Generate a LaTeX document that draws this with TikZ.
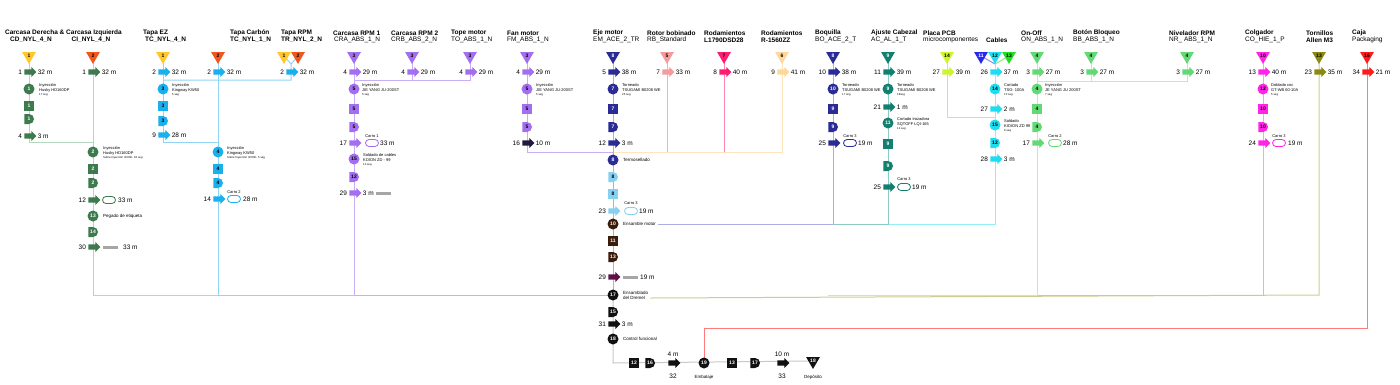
\documentclass[tikz,border=0pt]{standalone}
\usepackage{fontspec}
\setmainfont{Liberation Sans}
\usetikzlibrary{shapes.geometric,shapes.arrows,shapes.misc,backgrounds}
\definecolor{yel}{HTML}{FFC72C}
\definecolor{ora}{HTML}{F2561D}
\definecolor{gDark}{HTML}{3D7A4E}
\definecolor{gLine}{HTML}{B4D8BD}
\definecolor{bT}{HTML}{1AB0EE}
\definecolor{bLine}{HTML}{90D5F4}
\definecolor{purp}{HTML}{A36FF0}
\definecolor{pLine}{HTML}{C8AEF6}
\definecolor{dkA}{HTML}{221940}
\definecolor{navy}{HTML}{2B2B96}
\definecolor{nLine}{HTML}{ADADE3}
\definecolor{salm}{HTML}{F59B9B}
\definecolor{sLine}{HTML}{F6B3B3}
\definecolor{rosa}{HTML}{FF1B70}
\definecolor{rLine}{HTML}{FF88B6}
\definecolor{peach}{HTML}{FFD79B}
\definecolor{peLine}{HTML}{FFE4BD}
\definecolor{lblu}{HTML}{86D0F0}
\definecolor{brown}{HTML}{3B1B0B}
\definecolor{maroon}{HTML}{5D1147}
\definecolor{teal}{HTML}{13806F}
\definecolor{tLine}{HTML}{8DCBC2}
\definecolor{pcb}{HTML}{CCF52B}
\definecolor{pcbLine}{HTML}{CBEC7C}
\definecolor{cyan}{HTML}{1FDDF1}
\definecolor{cLine}{HTML}{90F0F7}
\definecolor{blu11}{HTML}{2727EF}
\definecolor{bl11Line}{HTML}{8A8AF5}
\definecolor{grn13}{HTML}{23DD23}
\definecolor{g13Line}{HTML}{8AE88A}
\definecolor{ong}{HTML}{63D976}
\definecolor{oLine}{HTML}{B8EFC1}
\definecolor{mag}{HTML}{FF24E6}
\definecolor{mLine}{HTML}{FF9DF2}
\definecolor{olive}{HTML}{8B8914}
\definecolor{olLine}{HTML}{CFCC8F}
\definecolor{red}{HTML}{FF1B1B}
\definecolor{redLine}{HTML}{FF7B7B}
\definecolor{blk}{HTML}{111111}
\definecolor{bLn}{HTML}{C9C9C9}
\newcommand\NumFont{\fontsize{5}{5}\selectfont\bfseries}
\newcommand\SmallLine[1]{{\fontsize{2.8}{3.2}\selectfont #1}}
\newcommand\ArrowBody{\rule{0pt}{5pt}}
\newcommand\ArrowLR[6]{%
 \node[tarrow,fill=#4] (#1) at (#2,#3) {\ArrowBody};
 \node[lbl,anchor=east] (#1l) at ([xshift=-2pt]#1.tail) {#5};
 \node[lbl,anchor=west] (#1r) at ([xshift=1pt]#1.tip) {#6};}
\newcommand\ArrowL[5]{%
 \node[tarrow,fill=#4] (#1) at (#2,#3) {\ArrowBody};
 \node[lbl,anchor=east] (#1l) at ([xshift=-2pt]#1.tail) {#5};}
\tikzset{
 stor/.style={regular polygon, regular polygon sides=3, shape border rotate=180, minimum size=16pt, inner sep=0pt, font=\NumFont},
 tarrow/.style={single arrow, minimum height=12pt, single arrow head extend=2.2pt, inner sep=0pt, draw=none},
 opc/.style={circle, minimum size=11pt, inner sep=0pt, font=\NumFont},
 insp/.style={rectangle, minimum size=10pt, inner sep=0pt, font=\NumFont},
 dly/.style={rounded rectangle, rounded rectangle left arc=none, minimum height=10pt, minimum width=9pt, inner sep=0pt, font=\NumFont},
 cart/.style={rounded rectangle, minimum width=13pt, minimum height=7pt, inner sep=0pt, fill=white, line width=0.8pt},
 bar/.style={rectangle, minimum width=15pt, minimum height=3pt, inner sep=0pt, fill=gray!70},
 lbl/.style={inner sep=0pt, font=\fontsize{6.5}{7}\selectfont},
 ttl/.style={inner sep=0pt, font=\fontsize{6.5}{7}\selectfont\bfseries, anchor=west},
 sub/.style={inner sep=0pt, font=\fontsize{6.5}{7}\selectfont, anchor=west},
 desc/.style={inner sep=0pt, font=\fontsize{4}{4.8}\selectfont, align=left, anchor=west},
 slab/.style={inner sep=0pt, font=\fontsize{4.5}{5.2}\selectfont, anchor=west},
 note/.style={inner sep=0pt, font=\fontsize{4}{4.5}\selectfont},
 ln/.style={line width=1pt},
}
\begin{document}
\begin{tikzpicture}[x=1pt,y=-1pt]
\useasboundingbox (0,0) rectangle (1400,384);
% ---------- titles
\node[ttl,anchor=center] (hA) at (63.5,33) {Carcasa Derecha \& Carcasa Izquierda};
\node[ttl,anchor=center] (hA2) at (31,40) {CD\_NYL\_4\_N};
\node[ttl,anchor=center] (hB2) at (91,40) {CI\_NYL\_4\_N};
\node[ttl] (hC) at (143,33) {Tapa EZ};
\node[ttl] (hC2) at (145,40) {TC\_NYL\_4\_N};
\node[ttl] (hD) at (230,33) {Tapa Carbón};
\node[ttl] (hD2) at (230,40) {TC\_NYL\_1\_N};
\node[ttl] (hE) at (281,33) {Tapa RPM};
\node[ttl] (hE2) at (281,40) {TR\_NYL\_2\_N};
\node[ttl] (hF) at (333,33) {Carcasa RPM 1};
\node[sub] (hF2) at (334,40) {CRA\_ABS\_1\_N};
\node[ttl] (hG) at (391,33) {Carcasa RPM 2};
\node[sub] (hG2) at (391,40) {CRB\_ABS\_2\_N};
\node[ttl] (hH) at (451,33) {Tope motor};
\node[sub] (hH2) at (451,40) {TO\_ABS\_1\_N};
\node[ttl] (hI) at (507,33) {Fan motor};
\node[sub] (hI2) at (507,40) {FM\_ABS\_1\_N};
\node[ttl] (hJ) at (593,33) {Eje motor};
\node[sub] (hJ2) at (593,40) {EM\_ACE\_2\_TR};
\node[ttl] (hK) at (647,33) {Rotor bobinado};
\node[sub] (hK2) at (647,40) {RB\_Standard};
\node[ttl] (hL) at (704,33) {Rodamientos};
\node[ttl] (hL2) at (704,40) {L1790DSD28};
\node[ttl] (hM) at (761,33) {Rodamientos};
\node[ttl] (hM2) at (761,40) {R-1560ZZ};
\node[ttl] (hN) at (815,33) {Boquilla};
\node[sub] (hN2) at (815,40) {BO\_ACE\_2\_T};
\node[ttl] (hO) at (871,33) {Ajuste Cabezal};
\node[sub] (hO2) at (871,40) {AC\_AL\_1\_T};
\node[ttl] (hP) at (923,33) {Placa PCB};
\node[sub] (hP2) at (923,40) {microcomponentes};
\node[ttl] (hQ) at (986,40) {Cables};
\node[ttl] (hR) at (1021,33) {On-Off};
\node[sub] (hR2) at (1021,40) {ON\_ABS\_1\_N};
\node[ttl] (hS) at (1073,33) {Botón Bloqueo};
\node[sub] (hS2) at (1073,40) {BB\_ABS\_1\_N};
\node[ttl] (hT) at (1169,33) {Nivelador RPM};
\node[sub] (hT2) at (1169,40) {NR\_ ABS\_1\_N};
\node[ttl] (hU) at (1245,33) {Colgador};
\node[sub] (hU2) at (1245,40) {CO\_HIE\_1\_P};
\node[ttl] (hV) at (1306,33) {Tornillos};
\node[ttl] (hV2) at (1306,40) {Allen M3};
\node[ttl] (hW) at (1352,33) {Caja};
\node[sub] (hW2) at (1352,40) {Packaging};
% ---------- column A
\node[stor,fill=yel] (tA) at (29,56) {1};
\ArrowLR{aA1}{29}{72}{gDark}{1}{32 m}
\node[opc,fill=gDark,text=white] (oA1) at (29,89) {1};
\node[desc] (oA1t) at (39,90) {Inyección\\Husky HD160DP\\\SmallLine{17 seg}};
\node[insp,fill=gDark,text=white] (iA1) at (29,106) {1};
\node[dly,fill=gDark,text=white] (dA1) at (29,119) {1};
\ArrowLR{aA2}{29}{136}{gDark}{4}{3 m}
\coordinate (jA) at (29,142); \coordinate (jA2) at (93,142);
% ---------- column B
\node[stor,fill=ora] (tB) at (93,56) {2};
\ArrowLR{aB1}{93}{72}{gDark}{1}{32 m}
\node[opc,fill=gDark,text=white] (oB1) at (93,152) {2};
\node[desc] (oB1t) at (103,153) {Inyección\\Husky HD160DP\\\SmallLine{Sobre Inyección 3C00K. 18 seg}};
\node[insp,fill=gDark,text=white] (iB1) at (93,169) {2};
\node[dly,fill=gDark,text=white] (dB1) at (93,183) {2};
\ArrowL{aB2}{93}{200}{gDark}{12}
\node[cart,draw=gDark] (cB1) at (109,200) {};
\node[lbl,anchor=west] (cB1r) at (118,200) {33 m};
\node[opc,fill=gDark,text=white] (oB2) at (93,216) {13};
\node[slab] (oB2t) at (103,216) {Pegado de etiqueta};
\node[dly,fill=gDark,text=white] (dB2) at (93,232) {14};
\ArrowL{aB3}{93}{247}{gDark}{30}
\node[bar] (bB1) at (110.5,247) {};
\node[lbl,anchor=west] (bB1r) at (123,247) {33 m};
\coordinate (jB) at (93,295); \coordinate (jB2) at (218,295);
% ---------- column C
\node[stor,fill=yel] (tC) at (163,56) {1};
\ArrowLR{aC1}{163}{72}{bT}{2}{32 m}
\node[opc,fill=bT] (oC1) at (163,89) {3};
\node[desc] (oC1t) at (172,90) {Inyección\\Kingway KW50\\\SmallLine{5 seg}};
\node[insp,fill=bT] (iC1) at (163,106) {3};
\node[dly,fill=bT] (dC1) at (163,121) {3};
\ArrowLR{aC2}{163}{135}{bT}{9}{28 m}
\coordinate (jC) at (163,142); \coordinate (jC2) at (218,142);
\coordinate (jE2) at (163,80);
% ---------- column D
\node[stor,fill=ora] (tD) at (218,56) {2};
\ArrowLR{aD1}{218}{72}{bT}{2}{32 m}
\node[opc,fill=bT] (oD1) at (218,152) {4};
\node[desc] (oD1t) at (227,153) {Inyección\\Kingway KW50\\\SmallLine{Sobre Inyección 3C00K. 5 seg}};
\node[insp,fill=bT] (iD1) at (218,169) {4};
\node[dly,fill=bT] (dD1) at (218,183) {4};
\node[note] (cD1n) at (234,192) {Carro 2};
\ArrowL{aD2}{218}{199}{bT}{14}
\node[cart,draw=bT] (cD1) at (234,199) {};
\node[lbl,anchor=west] (cD1r) at (243,199) {28 m};
\coordinate (jD) at (218,295); \coordinate (jD2) at (354,295);
% ---------- column E
\node[stor,fill=yel] (tE1) at (284,56) {1};
\node[stor,fill=ora] (tE2) at (298,56) {2};
\coordinate (jE0) at (291,64);
\ArrowLR{aE1}{291}{72}{bT}{2}{32 m}
\coordinate (jE) at (291,80);
% ---------- column F
\node[stor,fill=purp] (tF) at (354,56) {3};
\ArrowLR{aF1}{354}{72}{purp}{4}{29 m}
\node[opc,fill=purp] (oF1) at (354,89) {5};
\node[desc] (oF1t) at (362,90) {Inyección\\JIE YANG JU-200ST\\\SmallLine{5 seg}};
\node[insp,fill=purp] (iF1) at (354,109) {5};
\node[dly,fill=purp] (dF1) at (354,127) {5};
\node[note] (cF1n) at (372,136) {Carro 1};
\ArrowL{aF2}{354}{143}{purp}{17}
\node[cart,draw=purp] (cF1) at (372,143) {};
\node[lbl,anchor=west] (cF1r) at (380,143) {33 m};
\node[opc,fill=purp] (oF2) at (354,159) {15};
\node[desc] (oF2t) at (363,160) {Soldado de cables\\KOION ZD - 99\\\SmallLine{10 seg}};
\node[dly,fill=purp] (dF2) at (354,177) {12};
\ArrowLR{aF3}{354}{193}{purp}{29}{3 m}
\node[bar] (bF1) at (383.5,193) {};
\coordinate (jF) at (354,295); \coordinate (jH2) at (354,80);
% ---------- column G, H
\node[stor,fill=purp] (tG) at (412,56) {3};
\ArrowLR{aG1}{412}{72}{purp}{4}{29 m}
\coordinate (jG) at (412,80);
\node[stor,fill=purp] (tH) at (470,56) {3};
\ArrowLR{aH1}{470}{72}{purp}{4}{29 m}
\coordinate (jH) at (470,80);
% ---------- column I
\node[stor,fill=purp] (tI) at (527,56) {3};
\ArrowLR{aI1}{527}{72}{purp}{4}{29 m}
\node[opc,fill=purp] (oI1) at (527,89) {5};
\node[desc] (oI1t) at (536,90) {Inyección\\JIE YANG JU-200ST\\\SmallLine{5 seg}};
\node[insp,fill=purp] (iI1) at (527,109) {5};
\node[dly,fill=purp] (dI1) at (527,127) {5};
\ArrowLR{aI2}{527}{143}{dkA}{16}{10 m}
\coordinate (jI) at (527,152); \coordinate (jI2) at (613,152);
% ---------- column J (main)
\node[stor,fill=navy,text=white] (tJ) at (613,56) {8};
\ArrowLR{aJ1}{613}{72}{navy}{5}{38 m}
\node[opc,fill=navy,text=white] (oJ1) at (613,89) {7};
\node[desc] (oJ1t) at (622,90) {Torneado\\TSUGAMI B0208 WE\\\SmallLine{25 seg}};
\node[insp,fill=navy,text=white] (iJ1) at (613,109) {7};
\node[dly,fill=navy,text=white] (dJ1) at (613,127) {7};
\ArrowLR{aJ2}{613}{143}{navy}{12}{3 m}
\node[opc,fill=navy,text=white] (oJ2) at (613,160) {8};
\node[slab] (oJ2t) at (623,160) {Termosellado};
\node[dly,fill=lblu] (dJ2) at (613,177) {8};
\node[insp,fill=lblu] (iJ2) at (613,194) {8};
\node[note] (cJ1n) at (631,203) {Carro 3};
\ArrowL{aJ3}{613}{211}{lblu}{23}
\node[cart,draw=lblu] (cJ1) at (631,211) {};
\node[lbl,anchor=west] (cJ1r) at (639,211) {19 m};
\node[opc,fill=brown,text=white] (oJ3) at (613,224) {10};
\node[slab] (oJ3t) at (623,224) {Ensamble motor};
\node[insp,fill=brown,text=white] (iJ3) at (613,241) {11};
\node[dly,fill=brown,text=white] (dJ3) at (613,257) {13};
\ArrowL{aJ4}{613}{277}{maroon}{29}
\node[bar] (bJ1) at (630,277) {};
\node[lbl,anchor=west] (bJ1r) at (640,277) {19 m};
\node[opc,fill=blk,text=white] (oJ4) at (613,295) {17};
\node[slab,align=left] (oJ4t) at (623,295) {Ensamblado\\del Dremel};
\node[dly,fill=blk,text=white] (dJ4) at (613,312) {15};
\ArrowLR{aJ5}{613}{324}{blk}{31}{3 m}
\node[opc,fill=blk,text=white] (oJ5) at (613,339) {18};
\node[slab] (oJ5t) at (623,339) {Control funcional};
\coordinate (jJ) at (613,363);
% ---------- bottom row
\node[insp,fill=blk,text=white] (iK1) at (634,363) {12};
\node[dly,fill=blk,text=white] (dK1) at (650,363) {16};
\node[tarrow,fill=blk] (aK1) at (673,363) {\ArrowBody};
\node[lbl] (aK1a) at (673,354) {4 m};
\node[lbl] (aK1b) at (673,376) {32};
\node[opc,fill=blk,text=white] (oK1) at (704,363) {19};
\node[slab,anchor=center] (oK1t) at (704,377) {Embalaje};
\node[insp,fill=blk,text=white] (iK2) at (732,363) {13};
\node[dly,fill=blk,text=white] (dK2) at (755,363) {17};
\node[tarrow,fill=blk] (aK2) at (782,363) {\ArrowBody};
\node[lbl] (aK2a) at (782,354) {10 m};
\node[lbl] (aK2b) at (782,376) {33};
\node[stor,fill=blk,text=white] (tK) at (813,361) {18};
\node[slab,anchor=center] (tKt) at (813,377) {Depósito};
% ---------- columns K, L, M
\node[stor,fill=salm] (tKr) at (667,56) {5};
\ArrowLR{aKr}{667}{72}{salm}{7}{33 m}
\coordinate (jKr) at (667,152);
\node[stor,fill=rosa] (tL) at (724,56) {7};
\ArrowLR{aL1}{724}{72}{rosa}{8}{40 m}
\coordinate (jL) at (724,152);
\node[stor,fill=peach] (tM) at (782,56) {6};
\ArrowLR{aM1}{782}{72}{peach}{9}{41 m}
\coordinate (jM) at (782,152);
% ---------- column N
\node[stor,fill=navy,text=white] (tN) at (833,56) {8};
\ArrowLR{aN1}{833}{72}{navy}{10}{38 m}
\node[opc,fill=navy,text=white] (oN1) at (833,89) {10};
\node[desc] (oN1t) at (842,90) {Torneado\\TSUGAMI B0208 WE\\\SmallLine{17 seg}};
\node[insp,fill=navy,text=white] (iN1) at (833,109) {9};
\node[dly,fill=navy,text=white] (dN1) at (833,127) {9};
\node[note] (cN1n) at (850,136) {Carro 3};
\ArrowL{aN2}{833}{143}{navy}{25}
\node[cart,draw=navy] (cN1) at (850,143) {};
\node[lbl,anchor=west] (cN1r) at (858,143) {19 m};
\coordinate (jN) at (833,224);
% ---------- column O
\node[stor,fill=teal,text=white] (tO) at (888,56) {9};
\ArrowLR{aO1}{888}{72}{teal}{11}{39 m}
\node[opc,fill=teal,text=white] (oO1) at (888,89) {9};
\node[desc] (oO1t) at (897,90) {Torneado\\TSUGAMI B0208 WE\\\SmallLine{18seg}};
\ArrowLR{aO2}{888}{107}{teal}{21}{1 m}
\node[opc,fill=teal,text=white] (oO2) at (888,123) {11};
\node[desc] (oO2t) at (897,124) {Cortado trozadora\\SQTOFF LQI-165\\\SmallLine{12 seg}};
\node[insp,fill=teal,text=white] (iO1) at (888,144) {9};
\node[dly,fill=teal,text=white] (dO1) at (888,166) {9};
\node[note] (cO1n) at (904,179) {Carro 3};
\ArrowL{aO3}{888}{187}{teal}{25}
\node[cart,draw=teal] (cO1) at (904,187) {};
\node[lbl,anchor=west] (cO1r) at (912,187) {19 m};
\coordinate (jO) at (888,224);
% ---------- column P
\node[stor,fill=pcb] (tP) at (947,56) {14};
\ArrowLR{aP1}{947}{72}{pcb}{27}{39 m}
\coordinate (jP) at (947,117); \coordinate (jP2) at (995,117);
% ---------- column Q
\node[stor,fill=blu11,text=white] (tQ1) at (981,56) {11};
\node[stor,fill=cyan] (tQ2) at (995,56) {12};
\node[stor,fill=grn13] (tQ3) at (1009,56) {13};
\coordinate (jQ0) at (995,64);
\ArrowLR{aQ1}{995}{72}{cyan}{26}{37 m}
\node[opc,fill=cyan] (oQ1) at (995,89) {14};
\node[desc] (oQ1t) at (1004,90) {Cortado\\TSG- 100A\\\SmallLine{10 seg}};
\ArrowLR{aQ2}{995}{109}{cyan}{27}{2 m}
\node[opc,fill=cyan] (oQ2) at (995,125) {15};
\node[desc] (oQ2t) at (1004,126) {Soldado\\KIOION ZD 99\\\SmallLine{8 seg}};
\node[dly,fill=cyan] (dQ1) at (995,143) {12};
\ArrowLR{aQ3}{995}{159}{cyan}{28}{3 m}
\coordinate (jQ) at (995,224);
% ---------- column R, S, T
\node[stor,fill=ong] (tR) at (1037,56) {4};
\ArrowLR{aR1}{1037}{72}{ong}{3}{27 m}
\node[opc,fill=ong] (oR1) at (1037,89) {4};
\node[desc] (oR1t) at (1045,90) {Inyección\\JE YANG JU 200ST\\\SmallLine{7 seg}};
\node[insp,fill=ong] (iR1) at (1037,109) {4};
\node[dly,fill=ong] (dR1) at (1037,127) {4};
\node[note] (cR1n) at (1055,136) {Carro 2};
\ArrowL{aR2}{1037}{143}{ong}{17}
\node[cart,draw=ong] (cR1) at (1055,143) {};
\node[lbl,anchor=west] (cR1r) at (1063,143) {28 m};
\coordinate (jR) at (1037,295); \coordinate (jR2) at (828,295);
\coordinate (jT2) at (1037,81);
\node[stor,fill=ong] (tS) at (1091,56) {4};
\ArrowLR{aS1}{1091}{72}{ong}{3}{27 m}
\coordinate (jS) at (1091,81);
\node[stor,fill=ong] (tT) at (1187,56) {4};
\ArrowLR{aT1}{1187}{72}{ong}{3}{27 m}
\coordinate (jT) at (1187,81);
% ---------- column U
\node[stor,fill=mag] (tU) at (1263,56) {10};
\ArrowLR{aU1}{1263}{72}{mag}{13}{40 m}
\node[opc,fill=mag] (oU1) at (1263,89) {12};
\node[desc] (oU1t) at (1271,90) {Doblado cnc\\GT-WB 60-10A\\\SmallLine{5 seg}};
\node[insp,fill=mag] (iU1) at (1263,109) {10};
\node[dly,fill=mag] (dU1) at (1263,127) {10};
\node[note] (cU1n) at (1279,136) {Carro 3};
\ArrowL{aU2}{1263}{143}{mag}{24}
\node[cart,draw=mag] (cU1) at (1279,143) {};
\node[lbl,anchor=west] (cU1r) at (1288,143) {19 m};
\coordinate (jU) at (1263,295);
% ---------- column V, W
\node[stor,fill=olive] (tV) at (1319,56) {13};
\ArrowLR{aV1}{1319}{72}{olive}{23}{35 m}
\coordinate (jV) at (1319,295);
\node[stor,fill=red] (tW) at (1367,56) {16};
\ArrowLR{aW1}{1367}{72}{red}{34}{21 m}
\coordinate (jW) at (1367,328); \coordinate (jW2) at (704,328);
% ---------- connectors
\begin{scope}[on background layer]
\fill[white] (0,0) rectangle (1400,384);
\draw[ln,gLine] (tA.center) -- (jA) -- (jA2);
\draw[ln,gLine] (tB.center) -- (jB) -- (jB2);
\draw[ln,bLine] (tC.center) -- (jC) -- (jC2);
\draw[ln,bLine] (tE1.center) -- (jE0);
\draw[ln,bLine] (tE2.center) -- (jE0) -- (jE) -- (jE2);
\draw[ln,bLine] (tD.center) -- (jD) -- (jD2);
\draw[ln,pLine] (tG.center) -- (jG);
\draw[ln,pLine] (tH.center) -- (jH) -- (jH2);
\draw[ln,pLine] (tF.center) -- (jF) -- (oJ4.center);
\draw[ln,pLine] (tI.center) -- (jI) -- (jI2);
\draw[ln,sLine] (tKr.center) -- (jKr);
\draw[ln,rLine] (tL.center) -- (jL);
\draw[ln,peLine] (tM.center) -- (jM) -- (jI2);
\draw[ln,nLine] (tJ.center) -- (oJ4.center);
\draw[ln,bLn] (oJ4.center) -- (jJ) -- (tK.center);
\draw[ln,cLine] (tQ2.center) -- (jQ) -- (jO);
\draw[ln,bl11Line] (tQ1.center) -- (jQ0);
\draw[ln,g13Line] (tQ3.center) -- (jQ0);
\draw[ln,tLine] (tO.center) -- (jO) -- (jN);
\draw[ln,nLine] (tN.center) -- (jN) -- ([xshift=2pt]oJ3t.east);
\draw[ln,pcbLine] (tP.center) -- (jP) -- (jP2);
\draw[ln,olLine] (tV.center) -- (jV) -- ([xshift=2pt,yshift=-3pt]oJ4t.east);
\draw[ln,mLine] (tU.center) -- (jU) -- (jR);
\draw[ln,oLine] (tR.center) -- (jR) -- (jR2);
\draw[ln,oLine] (tS.center) -- (jS);
\draw[ln,oLine] (tT.center) -- (jT) -- (jT2);
\draw[ln,redLine] (tW.center) -- (jW) -- (jW2) -- (oK1.center);
\end{scope}
\end{tikzpicture}
\end{document}
